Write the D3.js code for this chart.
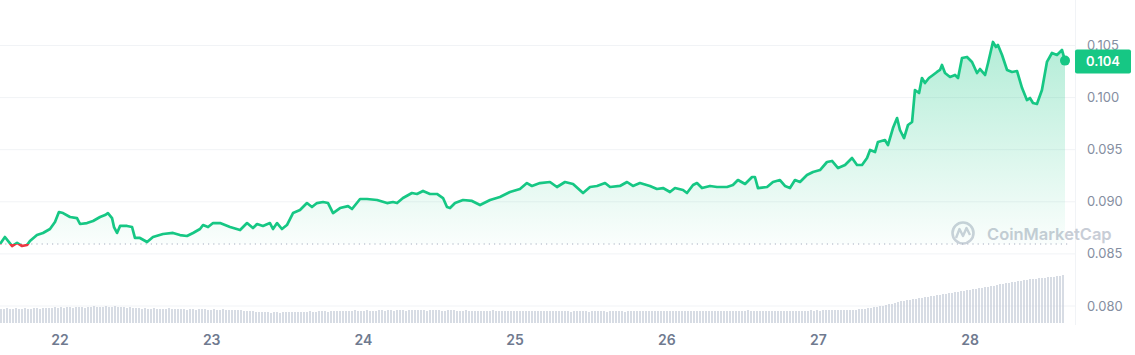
<!DOCTYPE html>
<html>
<head>
<meta charset="utf-8">
<script src="https://cdn.jsdelivr.net/npm/d3@7"></script>
<style>
  body { margin: 0; background: #fff; }
  svg { display: block; font-family: Inter, "Noto Sans", sans-serif; }
</style>
</head>
<body>
<div id="chart"></div>
<script>
// price points (day of month, price)
var days = [21.605, 21.637, 21.684, 21.717, 21.750, 21.783, 21.802, 21.848, 21.888, 21.934,
  21.967, 21.993, 22.020, 22.066, 22.112, 22.132, 22.178, 22.218, 22.264, 22.297,
  22.316, 22.343, 22.356, 22.376, 22.396, 22.442, 22.475, 22.494, 22.527, 22.574,
  22.613, 22.679, 22.745, 22.791, 22.837, 22.877, 22.923, 22.943, 22.976, 23.009,
  23.055, 23.121, 23.187, 23.233, 23.272, 23.299, 23.338, 23.384, 23.404, 23.431,
  23.463, 23.496, 23.536, 23.582, 23.628, 23.661, 23.694, 23.734, 23.767, 23.800,
  23.846, 23.899, 23.925, 23.978, 24.024, 24.090, 24.156, 24.195, 24.222, 24.261,
  24.320, 24.353, 24.393, 24.439, 24.485, 24.525, 24.551, 24.571, 24.604, 24.657,
  24.716, 24.769, 24.835, 24.900, 24.966, 25.032, 25.078, 25.111, 25.164, 25.230,
  25.276, 25.329, 25.382, 25.448, 25.494, 25.540, 25.593, 25.626, 25.691, 25.738,
  25.777, 25.823, 25.889, 25.935, 25.975, 26.021, 26.054, 26.107, 26.133, 26.173,
  26.199, 26.232, 26.285, 26.331, 26.397, 26.436, 26.469, 26.516, 26.562, 26.581,
  26.601, 26.661, 26.700, 26.746, 26.779, 26.812, 26.845, 26.878, 26.924, 26.964,
  27.010, 27.056, 27.089, 27.129, 27.175, 27.221, 27.254, 27.287, 27.320, 27.340,
  27.373, 27.392, 27.438, 27.458, 27.491, 27.518, 27.537, 27.564, 27.590, 27.617,
  27.636, 27.663, 27.682, 27.702, 27.728, 27.755, 27.781, 27.801, 27.814, 27.834,
  27.867, 27.900, 27.920, 27.946, 27.979, 28.012, 28.045, 28.065, 28.098, 28.118,
  28.150, 28.170, 28.183, 28.210, 28.243, 28.276, 28.309, 28.342, 28.374, 28.394,
  28.414, 28.440, 28.473, 28.506, 28.539, 28.572, 28.605, 28.625];

var prices = [0.08595, 0.08662, 0.08576, 0.08605, 0.08576, 0.08585, 0.08624, 0.08681, 0.08701, 0.08739,
  0.08806, 0.08902, 0.08892, 0.08854, 0.08844, 0.08787, 0.08796, 0.08816, 0.08854, 0.08873,
  0.08892, 0.08844, 0.08758, 0.08701, 0.08768, 0.08768, 0.08758, 0.08653, 0.08653, 0.08614,
  0.08662, 0.08691, 0.08701, 0.08681, 0.08672, 0.08701, 0.08739, 0.08777, 0.08758, 0.08796,
  0.08796, 0.08758, 0.08729, 0.08796, 0.08748, 0.08787, 0.08768, 0.08796, 0.08739, 0.08796,
  0.08739, 0.08777, 0.08892, 0.08921, 0.08988, 0.08950, 0.08988, 0.08998, 0.08988, 0.08892,
  0.08940, 0.08959, 0.08931, 0.09027, 0.09027, 0.09017, 0.08988, 0.08998, 0.08988, 0.09036,
  0.09084, 0.09075, 0.09104, 0.09075, 0.09075, 0.09036, 0.08950, 0.08940, 0.08988, 0.09017,
  0.09008, 0.08969, 0.09017, 0.09046, 0.09094, 0.09123, 0.09180, 0.09152, 0.09180, 0.09190,
  0.09142, 0.09190, 0.09171, 0.09084, 0.09142, 0.09152, 0.09180, 0.09142, 0.09152, 0.09190,
  0.09152, 0.09180, 0.09152, 0.09123, 0.09132, 0.09094, 0.09132, 0.09113, 0.09084, 0.09161,
  0.09180, 0.09132, 0.09152, 0.09142, 0.09142, 0.09161, 0.09209, 0.09171, 0.09238, 0.09238,
  0.09132, 0.09142, 0.09190, 0.09209, 0.09152, 0.09132, 0.09209, 0.09190, 0.09257, 0.09286,
  0.09305, 0.09382, 0.09392, 0.09324, 0.09353, 0.09420, 0.09353, 0.09353, 0.09420, 0.09497,
  0.09478, 0.09574, 0.09593, 0.09545, 0.09708, 0.09804, 0.09689, 0.09612, 0.09737, 0.09766,
  0.10073, 0.10044, 0.10188, 0.10140, 0.10188, 0.10217, 0.10246, 0.10265, 0.10313, 0.10236,
  0.10198, 0.10217, 0.10188, 0.10380, 0.10390, 0.10342, 0.10236, 0.10274, 0.10217, 0.10332,
  0.10534, 0.10486, 0.10505, 0.10409, 0.10265, 0.10246, 0.10255, 0.10092, 0.09977, 0.09996,
  0.09948, 0.09939, 0.10073, 0.10342, 0.10428, 0.10409, 0.10457, 0.10355];

// volume bars, oldest first (relative units)
var volumes = [14, 14, 15, 14, 14, 15, 14, 14, 15, 14, 14, 15, 15, 14, 15, 15, 15, 15, 16, 15,
  16, 15, 16, 16, 15, 16, 16, 16, 15, 16, 16, 17, 16, 16, 16, 17, 16, 16, 17, 16,
  16, 16, 15, 16, 15, 15, 15, 14, 15, 14, 14, 15, 14, 14, 14, 14, 15, 14, 14, 14,
  14, 14, 13, 14, 14, 13, 14, 14, 14, 13, 13, 14, 13, 13, 14, 13, 13, 13, 13, 13,
  13, 12, 12, 12, 12, 11, 11, 11, 11, 11, 10, 11, 11, 10, 11, 11, 11, 11, 11, 11,
  11, 11, 11, 12, 11, 11, 12, 12, 12, 11, 12, 12, 12, 12, 12, 12, 12, 12, 13, 12,
  12, 12, 13, 12, 12, 12, 13, 13, 12, 13, 13, 12, 13, 13, 13, 12, 13, 13, 13, 13,
  13, 13, 12, 13, 13, 13, 13, 12, 12, 13, 13, 13, 12, 12, 12, 13, 12, 12, 12, 12,
  12, 12, 12, 12, 13, 12, 12, 12, 12, 12, 12, 12, 12, 12, 12, 12, 12, 12, 12, 12,
  12, 12, 12, 12, 12, 12, 12, 12, 12, 12, 11, 12, 12, 12, 12, 12, 11, 12, 12, 12,
  12, 12, 11, 12, 12, 12, 12, 12, 11, 12, 12, 12, 12, 12, 12, 12, 12, 12, 12, 12,
  12, 12, 12, 12, 12, 12, 12, 12, 12, 12, 12, 12, 12, 12, 12, 12, 12, 12, 12, 12,
  12, 12, 12, 12, 12, 12, 12, 12, 12, 13, 12, 12, 12, 12, 12, 12, 12, 12, 12, 12,
  12, 12, 12, 12, 12, 12, 12, 12, 12, 12, 13, 12, 13, 12, 13, 13, 13, 13, 13, 13,
  13, 13, 13, 13, 13, 13, 14, 14, 14, 15, 15, 16, 16, 17, 17, 18, 19, 19, 20, 21,
  22, 22, 23, 23, 24, 24, 25, 25, 26, 26, 27, 27, 28, 28, 29, 29, 30, 30, 31, 31,
  32, 32, 33, 33, 34, 34, 35, 35, 36, 36, 37, 37, 38, 39, 39, 40, 40, 41, 41, 42,
  42, 43, 43, 44, 44, 44, 45, 45, 45, 46, 46, 46, 47, 47, 48];

var dayTicks = [22, 23, 24, 25, 26, 27, 28];
var priceTicks = [0.080, 0.085, 0.090, 0.095, 0.100, 0.105];

var green = "#16c784", red = "#ea3943";
var data = days.map(function(d, i) { return { day: d, price: prices[i] }; });
var basePrice = prices[0];
var last = data[data.length - 1];

var svg = d3.select("#chart").append("svg")
  .attr("width", 1135)
  .attr("height", 355);

var x = d3.scaleLinear().domain([21.6045, 28.625]).range([0, 1065]);
var y = d3.scaleLinear().domain([0.080, 0.105]).range([306, 45.5]);
var vx = d3.scaleLinear().domain([0, volumes.length - 1]).range([1, 1063]);
var vy = d3.scaleLinear().domain([0, 50]).range([323, 273]);
var baseY = y(basePrice);

var defs = svg.append("defs");
var grad = defs.append("linearGradient").attr("id", "gFill")
  .attr("gradientUnits", "userSpaceOnUse")
  .attr("x1", 0).attr("x2", 0).attr("y1", y(0.105)).attr("y2", baseY);
grad.append("stop").attr("offset", 0).attr("stop-color", green).attr("stop-opacity", 0.32);
grad.append("stop").attr("offset", 1).attr("stop-color", green).attr("stop-opacity", 0.02);

defs.append("clipPath").attr("id", "above").append("rect")
  .attr("x", 0).attr("y", 0).attr("width", 1135).attr("height", baseY);
defs.append("clipPath").attr("id", "below").append("rect")
  .attr("x", 0).attr("y", baseY).attr("width", 1135).attr("height", 355 - baseY);

// grid
svg.append("g").selectAll("line").data(priceTicks).enter().append("line")
  .attr("x1", 0).attr("x2", 1075)
  .attr("y1", function(d) { return y(d); }).attr("y2", function(d) { return y(d); })
  .attr("stroke", "#f1f3f6").attr("stroke-width", 1);
svg.append("line")
  .attr("x1", 1075.5).attr("x2", 1075.5).attr("y1", 0).attr("y2", 325)
  .attr("stroke", "#f1f3f6");

// volume
svg.append("g").selectAll("rect").data(volumes).enter().append("rect")
  .attr("x", function(d, i) { return vx(i) - 0.7; })
  .attr("y", function(d) { return vy(d); })
  .attr("width", 1.4)
  .attr("height", function(d) { return vy(0) - vy(d); })
  .attr("fill", "#c6cdd9");

// watermark
var wm = svg.append("g").attr("fill", "none").attr("stroke", "#cdd2db");
wm.append("circle").attr("cx", 963).attr("cy", 233).attr("r", 10.5).attr("stroke-width", 2.6);
wm.append("path").attr("d", "M956,238 L959.5,229 L963,236 L966.5,228 L970,235")
  .attr("stroke-width", 2.4).attr("stroke-linejoin", "round");
svg.append("text")
  .attr("x", 987).attr("y", 240)
  .attr("font-size", 16.5).attr("font-weight", 600)
  .attr("fill", "#c8cdd6")
  .text("CoinMarketCap");

// area + line
var area = d3.area()
  .x(function(d) { return x(d.day); })
  .y0(baseY)
  .y1(function(d) { return y(d.price); });
var line = d3.line()
  .x(function(d) { return x(d.day); })
  .y(function(d) { return y(d.price); });

svg.append("path").datum(data).attr("d", area)
  .attr("fill", "url(#gFill)").attr("clip-path", "url(#above)");

svg.append("line")
  .attr("x1", 0).attr("x2", 1068).attr("y1", baseY).attr("y2", baseY)
  .attr("stroke", "#a6aebf").attr("stroke-width", 1.2)
  .attr("stroke-dasharray", "1.2,4");

svg.append("path").datum(data).attr("d", line)
  .attr("fill", "none").attr("stroke", green).attr("stroke-width", 2.7)
  .attr("stroke-linejoin", "round").attr("clip-path", "url(#above)");
svg.append("path").datum(data).attr("d", line)
  .attr("fill", "none").attr("stroke", red).attr("stroke-width", 2.7)
  .attr("stroke-linejoin", "round").attr("clip-path", "url(#below)");

svg.append("circle")
  .attr("cx", x(last.day)).attr("cy", y(last.price)).attr("r", 5)
  .attr("fill", green);

// y axis labels
svg.append("g").selectAll("text").data(priceTicks).enter().append("text")
  .attr("x", 1087).attr("y", function(d) { return y(d) + 4.5; })
  .attr("font-size", 13).attr("fill", "#858ea1")
  .text(function(d) { return d3.format(".3f")(d); });

// current price tag
var tagY = y(last.price);
svg.append("rect")
  .attr("x", 1075).attr("y", tagY - 11).attr("width", 56).attr("height", 24)
  .attr("rx", 2).attr("fill", green);
svg.append("text")
  .attr("x", 1103).attr("y", tagY + 5.5)
  .attr("text-anchor", "middle")
  .attr("font-size", 13).attr("font-weight", 600).attr("fill", "#fff")
  .text(d3.format(".3f")(last.price));

// x axis labels
svg.append("g").selectAll("text").data(dayTicks).enter().append("text")
  .attr("x", function(d) { return x(d); }).attr("y", 345)
  .attr("text-anchor", "middle")
  .attr("font-size", 14).attr("font-weight", 600).attr("fill", "#6f7a8f")
  .text(function(d) { return d; });
</script>
</body>
</html>
